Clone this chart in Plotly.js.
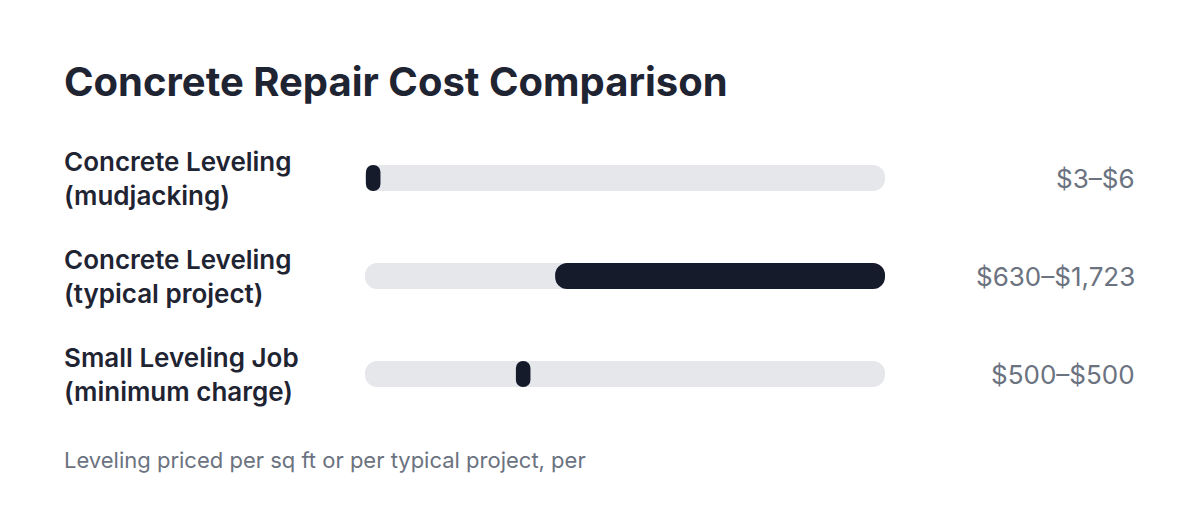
<!DOCTYPE html>
<html>
<head>
<meta charset="utf-8">
<script src="https://cdn.plot.ly/plotly-3.0.1.min.js"></script>
<style>
  html, body { margin: 0; padding: 0; background: #fff; }
  #chart { width: 1200px; height: 529px; }
</style>
</head>
<body>
<div id="chart"></div>
<script>
// data
var labels = [
    'Concrete Leveling\n(mudjacking)',
    'Concrete Leveling\n(typical project)',
    'Small Leveling Job\n(minimum charge)'
];
var lows = [3, 630, 500];
var highs = [6, 1723, 500];
var note = 'Leveling priced per sq ft or per typical project, per';

var W = 1200, H = 529;
var maxVal = Math.max.apply(null, highs);
var minSpan = maxVal * 0.028; // keep tiny ranges visible as a pill

var rows = labels.map(function(_, i) { return i; });

function money(v) {
    return '$' + v.toLocaleString('en-US');
}

var track = {
    type: 'bar',
    orientation: 'h',
    y: rows,
    x: rows.map(function() { return maxVal; }),
    base: rows.map(function() { return 0; }),
    width: 0.265,
    marker: { color: '#e5e7eb', cornerradius: 13 },
    hoverinfo: 'skip',
    showlegend: false
};

var range = {
    type: 'bar',
    orientation: 'h',
    y: rows,
    x: lows.map(function(lo, i) { return Math.max(highs[i] - lo, minSpan); }),
    base: lows,
    width: 0.265,
    marker: { color: '#151b2b', cornerradius: 13 },
    hoverinfo: 'skip',
    showlegend: false
};

var annotations = [];
labels.forEach(function(lab, i) {
    var parts = lab.split('\n');
    annotations.push({
        xref: 'paper', yref: 'y', x: 64 / W, y: i,
        xanchor: 'left', yanchor: 'middle', yshift: 16.5, xshift: -2,
        text: parts[0], showarrow: false,
        font: { family: 'Inter, sans-serif', size: 26, color: '#1f2433', weight: 600 }
    });
    annotations.push({
        xref: 'paper', yref: 'y', x: 64 / W, y: i,
        xanchor: 'left', yanchor: 'middle', yshift: -17, xshift: -2,
        text: parts[1], showarrow: false,
        font: { family: 'Inter, sans-serif', size: 26, color: '#1f2433', weight: 600 }
    });
    annotations.push({
        xref: 'paper', yref: 'y', x: 1135 / W, y: i,
        xanchor: 'right', yanchor: 'middle', xshift: 2,
        text: money(lows[i]) + '–' + money(highs[i]), showarrow: false,
        font: { family: 'Inter, sans-serif', size: 26, color: '#6b7280' }
    });
});

annotations.push({
    xref: 'paper', yref: 'paper', x: 64 / W, y: -(460 - 423) / 294,
    xanchor: 'left', yanchor: 'middle', xshift: -2,
    text: note, showarrow: false,
    font: { family: 'Inter, sans-serif', size: 22, color: '#6b7280' }
});

var layout = {
    width: W,
    height: H,
    margin: { l: 0, r: 0, t: 129, b: 106 },
    paper_bgcolor: '#ffffff',
    plot_bgcolor: '#ffffff',
    barmode: 'overlay',
    title: {
        text: 'Concrete Repair Cost Comparison',
        x: 64 / W, xanchor: 'left',
        y: 1 - 82 / H, yanchor: 'middle', yref: 'container',
        font: { family: 'Inter, sans-serif', size: 40, color: '#1f2433', weight: 700 }
    },
    xaxis: {
        domain: [365 / W, 885 / W],
        range: [0, maxVal],
        showgrid: false, zeroline: false, showticklabels: false, showline: false,
        fixedrange: true
    },
    yaxis: {
        range: [2.5, -0.5],
        showgrid: false, zeroline: false, showticklabels: false, showline: false,
        fixedrange: true
    },
    annotations: annotations
};

Plotly.newPlot('chart', [track, range], layout, { displayModeBar: false, staticPlot: true });
</script>
</body>
</html>
